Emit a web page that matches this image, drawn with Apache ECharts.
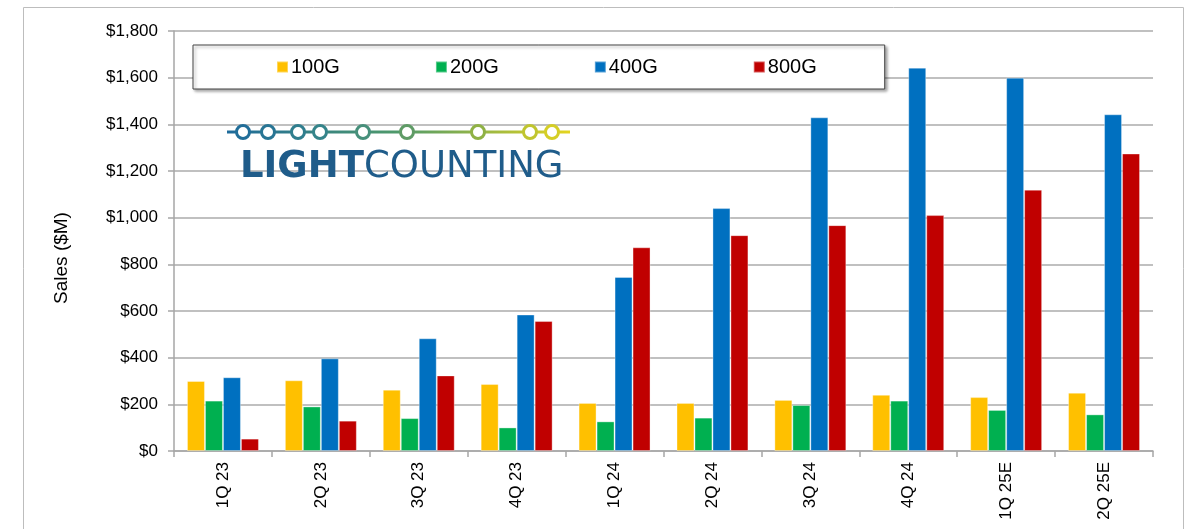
<!DOCTYPE html>
<html>
<head>
<meta charset="utf-8">
<script src="https://cdn.jsdelivr.net/npm/echarts@6/dist/echarts.min.js"></script>
<style>html,body{margin:0;padding:0;background:#fff;}#c{width:1192px;height:529px;}</style>
</head>
<body>
<div id="c"></div>
<script>
const categories = ['1Q 23','2Q 23','3Q 23','4Q 23','1Q 24','2Q 24','3Q 24','4Q 24','1Q 25E','2Q 25E'];
const s100G = [300, 303, 263, 287, 206, 206, 219, 241, 231, 250];
const s200G = [216, 191, 141, 101, 127, 143, 197, 216, 176, 157];
const s400G = [316, 397, 483, 585, 746, 1041, 1430, 1643, 1600, 1443];
const s800G = [53, 130, 324, 557, 873, 925, 968, 1011, 1120, 1275];
const yTicks = [0, 200, 400, 600, 800, 1000, 1200, 1400, 1600, 1800];

const chart = echarts.init(document.getElementById('c'));
const font = 'Liberation Sans, Arial, sans-serif';
function bar(name, data, color) {
  return {
    name, type: 'bar', data, barGap: '0%', barCategoryGap: '26.5%',
    itemStyle: { color, borderColor: 'rgba(255,255,255,0.35)', borderWidth: 1 }
  };
}
const dotsX = [243, 268, 298, 320, 363, 407, 478, 530, 552];
const graphics = [
  { type: 'rect', shape: { x: 23.5, y: 7.5, width: 1160, height: 540 }, style: { fill: 'none', stroke: '#bdbdbd', lineWidth: 1 }, z: 0 },
  { type: 'line', shape: { x1: 227, y1: 132, x2: 570, y2: 132 },
    style: { lineWidth: 3, stroke: new echarts.graphic.LinearGradient(0, 0, 1, 0, [
      { offset: 0, color: '#1d6a9c' }, { offset: 0.5, color: '#4f9a6a' }, { offset: 1, color: '#e6d51e' }]) }, z: 10 }
];
dotsX.forEach(x => {
  const t = (x - 227) / (570 - 227);
  const c = echarts.color.lerp(t, ['#1d6a9c', '#3b8a86', '#7aa84e', '#e6d51e']);
  graphics.push({ type: 'circle', shape: { cx: x, cy: 132, r: 6.5 }, style: { fill: '#fff', stroke: c, lineWidth: 3 }, z: 11 });
});
graphics.push({
  type: 'text', left: 240, top: 149, z: 11,
  style: {
    text: '{b|LIGHT}{r|COUNTING}',
    rich: {
      b: { fontFamily: 'DejaVu Sans, sans-serif', fontWeight: 'bold', fontSize: 37, fill: '#1f5c8a' },
      r: { fontFamily: 'DejaVu Sans, sans-serif', fontWeight: 'normal', fontSize: 37, fill: '#1f5c8a' }
    }
  }
});
graphics.push({
  type: 'text', x: 62, y: 258, rotation: Math.PI / 2, z: 11,
  style: { text: 'Sales ($M)', fontFamily: font, fontSize: 19, fill: '#000', align: 'center', verticalAlign: 'middle' }
});

chart.setOption({
  animation: false,
  color: ['#FFC000', '#00B050', '#0070C0', '#C00000'],
  grid: { left: 174, right: 39, top: 31, bottom: 78, containLabel: false },
  legend: {
    left: 193, top: 45,
    padding: [12, 68, 12, 83],
    itemWidth: 11, itemHeight: 11, itemGap: 95,
    icon: 'rect',
    borderColor: '#444', borderWidth: 1,
    backgroundColor: '#fff',
    shadowColor: 'rgba(0,0,0,0.35)', shadowBlur: 3, shadowOffsetX: 2, shadowOffsetY: 2,
    textStyle: { fontFamily: font, fontSize: 20, color: '#000', padding: [0, 0, 0, -2] },
    data: ['100G', '200G', '400G', '800G']
  },
  xAxis: {
    type: 'category', data: categories,
    axisLine: { lineStyle: { color: '#a6a6a6', width: 1.5 } },
    axisTick: { show: true, length: 6, lineStyle: { color: '#a6a6a6', width: 1.5 } },
    axisLabel: { rotate: 90, margin: 11, fontFamily: font, fontSize: 17, color: '#000' }
  },
  yAxis: {
    type: 'value', min: 0, max: 1800, interval: 200,
    axisLine: { show: true, lineStyle: { color: '#a6a6a6', width: 1.5 } },
    axisTick: { show: true, length: 6, lineStyle: { color: '#a6a6a6', width: 1.5 } },
    splitLine: { lineStyle: { color: '#ababab', width: 1.5 } },
    axisLabel: {
      margin: 16, fontFamily: font, fontSize: 17, color: '#000',
      formatter: v => yTicks.includes(v) ? '$' + v.toLocaleString('en-US') : ''
    }
  },
  graphic: graphics,
  series: [
    bar('100G', s100G, '#FFC000'),
    bar('200G', s200G, '#00B050'),
    bar('400G', s400G, '#0070C0'),
    bar('800G', s800G, '#C00000')
  ]
});
</script>
</body>
</html>
